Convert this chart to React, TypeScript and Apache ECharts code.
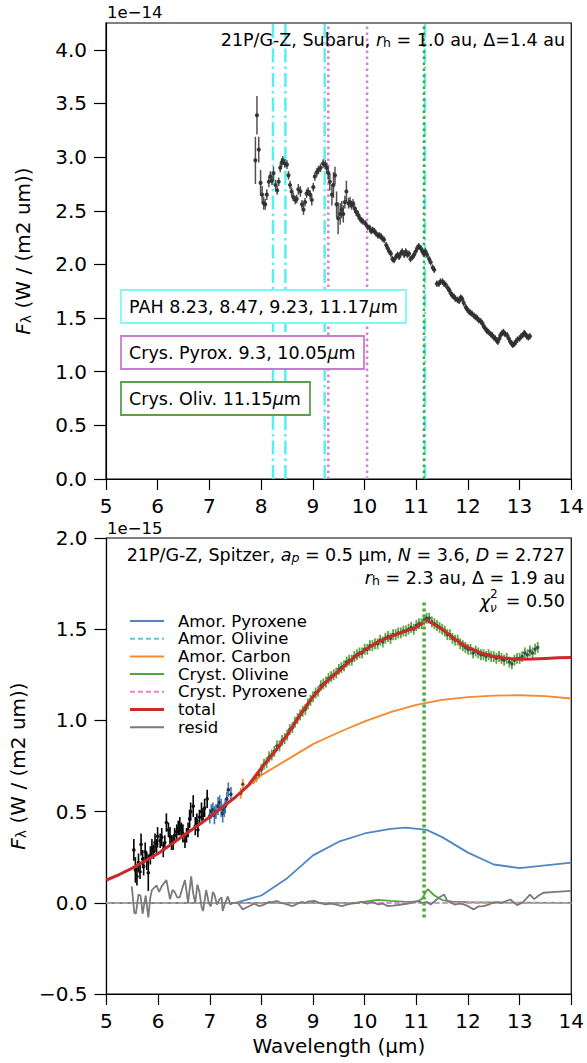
import React, { useEffect, useRef } from 'react';
import * as echarts from 'echarts';

const FONT = '"DejaVu Sans", sans-serif';

// ---------------- Top panel (Subaru) ----------------
const topWave = [7.89,7.92,7.955,7.99,8.02,8.05,8.08,8.11,8.15,8.18,
  8.21,8.24,8.28,8.31,8.34,8.37,8.40,8.42,8.46,8.50,
  8.53,8.56,8.59,8.62,8.66,8.69,8.72,8.76,8.79,8.82,
  8.85,8.88,8.91,8.95,8.98,9.01,9.04,9.08,9.11,9.15,
  9.20,9.24,9.27,9.30,9.33,9.37,9.40,9.43,9.46,9.49,
  9.53,9.56,9.59,9.62,9.65,9.69,9.72,9.75,9.78,9.81,
  9.84,9.88,9.91,9.94,9.97,10.02,10.06,10.10,10.13,10.16,
  10.19,10.22,10.26,10.29,10.32,10.35,10.38,10.42,10.45,10.48,
  10.51,10.54,10.57,10.61,10.64,10.67,10.70,10.73,10.77,10.80,
  10.83,10.86,10.89,10.93,10.96,10.99,11.02,11.05,11.09,11.12,
  11.15,11.18,11.21,11.25,11.28,11.32,11.35,11.40,11.44,11.47,
  11.51,11.54,11.57,11.61,11.64,11.67,11.70,11.73,11.76,11.80,
  11.83,11.86,11.89,11.92,11.96,11.99,12.02,12.05,12.08,12.12,
  12.15,12.18,12.21,12.25,12.28,12.31,12.34,12.37,12.40,12.44,
  12.47,12.50,12.53,12.56,12.58,12.61,12.63,12.66,12.69,12.72,
  12.76,12.79,12.82,12.85,12.87,12.90,12.93,12.96,13.00,13.03,
  13.06,13.09,13.11,13.14,13.17,13.20];
const topFlux = [2.97,3.39,3.07,2.76,2.65,2.57,2.56,2.65,2.77,2.82,
  2.78,2.85,2.74,2.69,2.77,2.90,2.95,2.97,2.94,2.93,
  2.83,2.74,2.68,2.63,2.60,2.61,2.70,2.68,2.56,2.51,
  2.58,2.66,2.68,2.65,2.60,2.72,2.82,2.86,2.88,2.90,
  2.94,2.93,2.90,2.85,2.77,2.65,2.74,2.83,2.56,2.43,
  2.47,2.51,2.47,2.58,2.68,2.57,2.58,2.55,2.57,2.52,
  2.49,2.46,2.43,2.41,2.40,2.38,2.35,2.34,2.31,2.32,
  2.31,2.29,2.27,2.27,2.26,2.24,2.23,2.18,2.15,2.12,
  2.10,2.05,2.04,2.07,2.09,2.07,2.10,2.12,2.09,2.12,
  2.09,2.10,2.05,2.07,2.09,2.12,2.15,2.17,2.15,2.12,
  2.10,2.12,2.09,2.05,2.02,1.97,1.95,1.82,1.82,1.84,
  1.84,1.82,1.81,1.78,1.76,1.73,1.71,1.70,1.68,1.67,
  1.66,1.69,1.68,1.64,1.60,1.58,1.56,1.55,1.54,1.52,
  1.51,1.50,1.48,1.47,1.45,1.42,1.40,1.38,1.37,1.35,
  1.34,1.32,1.31,1.29,1.28,1.31,1.34,1.36,1.37,1.35,
  1.34,1.31,1.28,1.26,1.25,1.26,1.28,1.30,1.31,1.33,
  1.34,1.36,1.35,1.33,1.32,1.33];
const topErr = [0.22,0.18,0.12,0.12,0.08,0.06,0.05,0.05,0.05,0.05,
  0.04,0.06,0.05,0.04,0.04,0.04,0.04,0.04,0.04,0.04,
  0.04,0.04,0.04,0.04,0.04,0.04,0.05,0.05,0.04,0.05,
  0.04,0.04,0.04,0.04,0.05,0.04,0.04,0.04,0.04,0.04,
  0.04,0.04,0.05,0.06,0.08,0.10,0.12,0.08,0.12,0.15,
  0.10,0.08,0.08,0.06,0.10,0.05,0.05,0.04,0.04,0.04,
  0.04,0.04,0.03,0.03,0.03,0.03,0.03,0.03,0.03,0.03,
  0.03,0.03,0.03,0.03,0.03,0.03,0.03,0.03,0.03,0.03,
  0.03,0.03,0.03,0.03,0.03,0.03,0.03,0.03,0.03,0.03,
  0.03,0.03,0.03,0.03,0.03,0.03,0.03,0.03,0.03,0.03,
  0.03,0.03,0.03,0.03,0.03,0.03,0.03,0.03,0.03,0.03,
  0.03,0.03,0.03,0.03,0.03,0.03,0.03,0.03,0.03,0.03,
  0.03,0.03,0.03,0.03,0.03,0.03,0.03,0.03,0.03,0.03,
  0.03,0.03,0.03,0.03,0.03,0.03,0.03,0.03,0.03,0.03,
  0.03,0.03,0.03,0.03,0.03,0.03,0.03,0.03,0.03,0.03,
  0.03,0.03,0.03,0.03,0.03,0.03,0.03,0.03,0.03,0.03,
  0.03,0.03,0.03,0.03,0.03,0.03];

const pahLines = [8.23, 8.47, 9.23, 11.17];
const pyroxLines = [9.3, 10.05];
const olivLines = [11.15];
const topYTicks = [0, 0.5, 1, 1.5, 2, 2.5, 3, 3.5, 4];
const TOP_YMAX = 4.25;

// ---------------- Bottom panel (Spitzer) ----------------
const blackWave = [5.53,5.56,5.59,5.62,5.65,5.67,5.70,5.72,5.75,5.78,
  5.81,5.85,5.88,5.91,5.94,5.97,5.99,6.04,6.07,6.10,
  6.13,6.16,6.20,6.23,6.26,6.29,6.32,6.36,6.39,6.42,
  6.45,6.48,6.52,6.55,6.58,6.61,6.63,6.68,6.72,6.75,
  6.77,6.80,6.84,6.87,6.90,6.95];
const blackFlux = [0.29,0.18,0.145,0.22,0.17,0.32,0.24,0.20,0.28,0.23,
  0.165,0.26,0.30,0.28,0.33,0.31,0.365,0.34,0.36,0.29,
  0.33,0.44,0.40,0.365,0.33,0.33,0.37,0.39,0.41,0.42,
  0.40,0.38,0.34,0.37,0.40,0.46,0.50,0.53,0.42,0.45,
  0.40,0.47,0.50,0.48,0.52,0.57];
const blackErr = [0.06,0.07,0.05,0.05,0.04,0.06,0.05,0.05,0.05,0.05,
  0.10,0.05,0.05,0.04,0.05,0.04,0.05,0.04,0.05,0.04,
  0.04,0.05,0.04,0.05,0.04,0.04,0.04,0.04,0.04,0.05,
  0.04,0.05,0.04,0.04,0.04,0.05,0.05,0.06,0.05,0.04,
  0.04,0.04,0.05,0.04,0.05,0.05];

const blueWave = [7.00,7.03,7.06,7.09,7.12,7.16,7.19,7.22,7.25,7.28,7.30,7.33,7.36,7.41];
const blueFlux = [0.475,0.50,0.51,0.48,0.50,0.53,0.55,0.52,0.49,0.51,0.53,0.57,0.62,0.595];
const blueErr = [0.04,0.04,0.04,0.05,0.04,0.05,0.04,0.05,0.05,0.04,0.04,0.04,0.04,0.04];

const orangeWave = [7.60,7.64,7.85,7.90,7.95];
const orangeFlux = [0.60,0.65,0.67,0.68,0.70];
const orangeErr = [0.03,0.03,0.02,0.02,0.02];

const greenWave = [8.00,8.05,8.10,8.15,8.20,8.25,8.30,8.35,8.40,8.45,
  8.50,8.55,8.60,8.65,8.70,8.75,8.80,8.85,8.90,8.95,
  9.00,9.05,9.10,9.15,9.20,9.25,9.30,9.35,9.40,9.45,
  9.50,9.55,9.60,9.65,9.70,9.75,9.80,9.85,9.90,9.95,
  10.00,10.05,10.10,10.15,10.20,10.25,10.30,10.35,10.40,10.45,
  10.50,10.55,10.60,10.65,10.70,10.75,10.80,10.85,10.90,10.95,
  11.00,11.05,11.10,11.15,11.20,11.25,11.30,11.35,11.40,11.45,
  11.50,11.55,11.60,11.65,11.70,11.75,11.80,11.85,11.90,11.95,
  12.00,12.05,12.10,12.15,12.20,12.25,12.30,12.35,12.40,12.45,
  12.50,12.55,12.60,12.65,12.70,12.75,12.80,12.85,12.90,12.95,
  13.00,13.05,13.10,13.15,13.20,13.25,13.30,13.35];
const greenFlux = [0.73,0.76,0.77,0.80,0.81,0.83,0.86,0.86,0.89,0.90,
  0.92,0.95,0.96,0.99,1.01,1.03,1.05,1.06,1.09,1.11,
  1.13,1.15,1.16,1.19,1.20,1.21,1.23,1.24,1.25,1.26,
  1.28,1.29,1.30,1.32,1.33,1.33,1.35,1.36,1.37,1.37,
  1.39,1.39,1.41,1.41,1.42,1.42,1.44,1.43,1.45,1.46,
  1.45,1.47,1.47,1.48,1.48,1.49,1.49,1.50,1.51,1.50,
  1.52,1.53,1.53,1.55,1.56,1.56,1.54,1.53,1.52,1.51,
  1.50,1.49,1.47,1.47,1.45,1.44,1.44,1.42,1.41,1.40,
  1.39,1.39,1.37,1.38,1.37,1.36,1.36,1.35,1.36,1.35,
  1.35,1.34,1.35,1.34,1.33,1.34,1.32,1.31,1.33,1.34,
  1.34,1.35,1.37,1.36,1.38,1.37,1.39,1.40];
const GREEN_ERR = 0.03;

const totalWave = [5.0,5.25,5.5,5.75,6.0,6.25,6.5,6.75,7.0,7.25,7.5,7.75,8.0,8.25,8.5,8.75,9.0,9.25,9.5,9.75,10.0,10.25,10.5,10.75,11.0,11.2,11.5,11.75,12.0,12.25,12.5,12.75,13.0,13.25,13.5,13.75,14.0];
const totalFlux = [0.125,0.155,0.19,0.23,0.27,0.32,0.37,0.42,0.47,0.525,0.58,0.645,0.74,0.825,0.92,1.03,1.13,1.21,1.27,1.335,1.385,1.43,1.46,1.485,1.51,1.55,1.50,1.445,1.40,1.37,1.35,1.34,1.335,1.337,1.34,1.343,1.345];

const carbonWave = [5.0,5.5,6.0,6.5,7.0,7.5,8.0,8.5,9.0,9.5,10.0,10.5,11.0,11.5,12.0,12.5,13.0,13.5,14.0];
const carbonFlux = [0.125,0.19,0.27,0.37,0.47,0.58,0.70,0.785,0.87,0.935,0.995,1.045,1.085,1.112,1.128,1.136,1.138,1.133,1.12];

const amPyrWave = [5.0,7.5,8.0,8.5,9.0,9.5,10.0,10.5,10.8,11.2,11.5,12.0,12.5,13.0,13.5,14.0];
const amPyrFlux = [0,0,0.04,0.135,0.26,0.335,0.38,0.405,0.412,0.40,0.36,0.275,0.21,0.19,0.205,0.22];

const crOlWave = [5.0,9.8,10.0,10.25,10.5,10.8,11.0,11.1,11.22,11.35,11.5,11.7,12.0,13.0,14.0];
const crOlFlux = [0,0,0.006,0.016,0.01,0.005,0.006,0.02,0.075,0.04,0.015,0.006,0.003,0.001,0];

const amOlWave = [5.0, 14.0];
const amOlFlux = [0, 0];
const crPyrWave = [5.0, 14.0];
const crPyrFlux = [0, 0];

const residWave = [5.49,5.54,5.57,5.62,5.66,5.70,5.76,5.81,5.85,5.88,5.97,6.02,6.07,6.16,6.23,6.28,6.32,6.37,6.42,6.47,
  6.52,6.58,6.64,6.68,6.72,6.76,6.80,6.84,6.87,6.93,6.98,7.02,7.06,7.09,7.14,7.19,7.23,7.25,7.30,7.35,
  7.40,7.44,7.54,7.64,7.75,7.86,7.96,8.05,8.15,8.21,8.30,8.37,8.45,8.52,8.60,8.70,8.78,8.85,8.92,9.04,
  9.12,9.24,9.35,9.45,9.56,9.65,9.75,9.88,9.95,10.05,10.15,10.26,10.35,10.45,10.55,10.64,10.75,10.84,10.95,11.03,
  11.12,11.20,11.28,11.36,11.45,11.54,11.60,11.67,11.75,11.83,11.92,12.01,12.11,12.20,12.30,12.40,12.48,12.56,12.65,12.74,
  12.82,12.95,13.05,13.12,13.20,13.28,13.37,13.46,13.70,14.0];
const residFlux = [0.09,-0.055,-0.06,0.045,0.04,-0.06,0.04,-0.08,0.03,0.07,0.095,0.06,0.09,0.125,0.02,0.07,0.06,0.03,0.03,0.08,
  0.125,0.0,0.145,0.05,0.0,0.1,0.06,-0.02,-0.045,0.07,0.0,-0.02,0.06,0.045,-0.01,0.02,0.03,-0.045,0.0,0.035,
  -0.01,0.0,0.0,-0.036,-0.02,-0.005,-0.018,-0.01,0.005,0.004,0.01,0.0,-0.005,-0.012,-0.018,-0.005,0.005,0.0,0.008,0.01,
  0.0,-0.009,-0.005,-0.01,-0.018,-0.01,-0.005,0.0,0.005,-0.005,0.005,-0.009,-0.004,-0.018,-0.015,-0.012,-0.008,-0.005,0.005,0.009,
  0.0,0.005,-0.009,0.01,0.03,0.045,0.01,0.0,-0.01,-0.005,-0.009,-0.02,-0.036,-0.02,-0.018,-0.01,0.0,0.004,0.0,0.01,
  0.018,-0.013,0.0,0.02,0.045,0.02,0.04,0.055,0.06,0.065];

const bottomOlivLineX = 11.15;
const bottomOlivLineY = [-0.08, 1.65];
const bottomYTicks = [-0.5, 0, 0.5, 1, 1.5, 2];

const legendItems = [
  { name: 'Amor. Pyroxene', color: '#4f86c6', dash: 'solid', width: 2 },
  { name: 'Amor. Olivine', color: '#5bc8dc', dash: [5, 3], width: 2 },
  { name: 'Amor. Carbon', color: '#f5892b', dash: 'solid', width: 2 },
  { name: 'Cryst. Olivine', color: '#4fa83d', dash: 'solid', width: 2 },
  { name: 'Cryst. Pyroxene', color: '#e088d0', dash: [5, 3], width: 2 },
  { name: 'total', color: '#c92a2a', dash: 'solid', width: 3 },
  { name: 'resid', color: '#7a7a7a', dash: 'solid', width: 2 },
];

const xy = (xs: number[], ys: number[]) => xs.map((x, i) => [x, ys[i]]);

function lineSeries(xs: number[], ys: number[], color: string, width: number, type: any, gi: number, z = 4) {
  return {
    type: 'line', xAxisIndex: gi, yAxisIndex: gi, data: xy(xs, ys),
    symbol: 'none', showSymbol: false, silent: true, z,
    lineStyle: { color, width, type },
  };
}

function errSeries(xs: number[], ys: number[], es: number[] | number, gi: number, barColor: string, markColor: string, r: number, bw: number, z = 3) {
  return {
    type: 'custom', xAxisIndex: gi, yAxisIndex: gi, silent: true, z,
    data: xs.map((x, i) => [x, ys[i], Array.isArray(es) ? es[i] : es]),
    encode: { x: 0, y: 1 },
    renderItem: (_p: any, api: any) => {
      const x = api.value(0), y = api.value(1), e = api.value(2);
      const a = api.coord([x, y + e]);
      const b = api.coord([x, y - e]);
      const c = api.coord([x, y]);
      return {
        type: 'group',
        children: [
          { type: 'line', shape: { x1: a[0], y1: a[1], x2: b[0], y2: b[1] }, style: { stroke: barColor, lineWidth: bw } },
          { type: 'circle', shape: { cx: c[0], cy: c[1], r }, style: { fill: markColor } },
        ],
      };
    },
  };
}

function vline(x: number, y0: number, y1: number, color: string, width: number, type: any, gi: number, z = 2) {
  return lineSeries([x, x], [y0, y1], color, width, type, gi, z);
}

const fmt = (v: number) => (v < 0 ? '\u2212' + Math.abs(v).toFixed(1) : v.toFixed(1));

const richBase = {
  n: { fontSize: 17.5, fontFamily: FONT, color: '#000' },
  i: { fontSize: 17.5, fontFamily: FONT, fontStyle: 'italic', color: '#000' },
  sub: { fontSize: 12.5, fontFamily: FONT, color: '#000', verticalAlign: 'bottom', lineHeight: 6 },
  subi: { fontSize: 12.5, fontFamily: FONT, fontStyle: 'italic', color: '#000', verticalAlign: 'bottom', lineHeight: 6 },
};

function richText(x: number, y: number, text: string, align = 'right') {
  return {
    type: 'text', x, y, silent: true, z: 20,
    style: { text, rich: richBase, align, verticalAlign: 'middle', textAlign: align, textVerticalAlign: 'middle', fontSize: 17.5, fontFamily: FONT, fill: '#000' },
  };
}

function plainText(x: number, y: number, text: string, size: number, align = 'left', italic = false) {
  return {
    type: 'text', x, y, silent: true, z: 20,
    style: { text, fontSize: size, fontFamily: FONT, fontStyle: italic ? 'italic' : 'normal', fill: '#000', align, verticalAlign: 'middle', textAlign: align, textVerticalAlign: 'middle' },
  };
}

function boxLabel(x: number, y: number, w: number, h: number, border: string, text: string) {
  return [
    { type: 'rect', shape: { x, y, width: w, height: h }, style: { fill: '#fff', stroke: border, lineWidth: 1.8 }, z: 18, silent: true },
    richText(x + 8, y + h / 2, text, 'left'),
  ];
}

function axisCommon(gi: number) {
  return {
    gridIndex: gi,
    axisLine: { show: true, onZero: false, lineStyle: { color: '#000', width: 1.2 } },
    splitLine: { show: false },
  };
}

function buildOption() {
  const yName = '{i|F}{sub|\u03bb} (W / (m2 um))';
  const yNameStyle = {
    fontSize: 20, fontFamily: FONT, color: '#000',
    rich: {
      i: { fontSize: 20, fontFamily: FONT, fontStyle: 'italic', color: '#000' },
      sub: { fontSize: 14, fontFamily: FONT, color: '#000', verticalAlign: 'bottom', lineHeight: 8 },
    },
  };
  const xAxisBase = (gi: number) => ({
    ...axisCommon(gi), type: 'value', min: 5, max: 14, interval: 1,
    axisTick: { show: true, length: 11, lineStyle: { color: '#000', width: 1.2 } },
    axisLabel: { fontSize: 20, fontFamily: FONT, color: '#000', margin: 17 },
  });

  const series: any[] = [];
  // top panel lines
  pahLines.forEach((x) => series.push(vline(x, 0, TOP_YMAX, '#55f0f0', 2.5, [14, 4, 2.5, 4], 0)));
  pyroxLines.forEach((x) => series.push(vline(x, 0, TOP_YMAX, '#d97fd3', 2.5, [2.5, 3.5], 0)));
  olivLines.forEach((x) => series.push(vline(x, 0, TOP_YMAX, '#4aa13a', 2.5, [2.5, 3.5], 0)));
  series.push(errSeries(topWave, topFlux, topErr, 0, 'rgba(50,50,50,0.85)', 'rgba(45,45,45,0.9)', 2.1, 1.5, 5));

  // bottom panel data
  series.push(errSeries(blackWave, blackFlux, blackErr, 1, '#000', '#111', 1.8, 1.6, 3));
  series.push(errSeries(blueWave, blueFlux, blueErr, 1, '#3f74b0', '#1f3556', 1.8, 1.6, 3));
  series.push(errSeries(orangeWave, orangeFlux, orangeErr, 1, '#f5892b', '#6b4a2a', 1.8, 1.6, 3));
  series.push(errSeries(greenWave, greenFlux, GREEN_ERR, 1, '#5aa83e', '#3a4a58', 1.7, 1.8, 3));

  // model components
  series.push(lineSeries(amPyrWave, amPyrFlux, legendItems[0].color, 1.8, 'solid', 1, 4));
  series.push(lineSeries(amOlWave, amOlFlux, legendItems[1].color, 1.8, [5, 3], 1, 4));
  series.push(lineSeries(carbonWave, carbonFlux, legendItems[2].color, 1.8, 'solid', 1, 4));
  series.push(lineSeries(crOlWave, crOlFlux, legendItems[3].color, 1.8, 'solid', 1, 4));
  series.push(lineSeries(crPyrWave, crPyrFlux, legendItems[4].color, 1.8, [5, 3], 1, 5));
  series.push(lineSeries(totalWave, totalFlux, legendItems[5].color, 3, 'solid', 1, 6));
  series.push(lineSeries(residWave, residFlux, legendItems[6].color, 1.8, 'solid', 1, 6));
  series.push(vline(bottomOlivLineX, bottomOlivLineY[0], bottomOlivLineY[1], '#4fa83d', 3.5, [3, 3], 1, 7));

  const graphic: any[] = [];
  graphic.push(plainText(107, 12, '1e\u221214', 16.5));
  graphic.push(plainText(107, 528, '1e\u221215', 16.5));
  graphic.push(richText(565, 40, '{n|21P/G-Z, Subaru, }{i|r}{sub|h}{n| = 1.0 au, \u0394=1.4 au}'));
  graphic.push(...boxLabel(121, 290, 285, 33, '#7ff7f7', '{n|PAH 8.23, 8.47, 9.23, 11.17}{i|\u03bc}{n|m}'));
  graphic.push(...boxLabel(121, 336, 243, 33, '#c77dc7', '{n|Crys. Pyrox. 9.3, 10.05}{i|\u03bc}{n|m}'));
  graphic.push(...boxLabel(121, 382, 189, 33, '#5c9e4a', '{n|Crys. Oliv. 11.15}{i|\u03bc}{n|m}'));

  graphic.push(richText(565, 555, '{n|21P/G-Z, Spitzer, }{i|a}{subi|p}{n| = 0.5 \u03bcm, }{i|N}{n| = 3.6, }{i|D}{n| = 2.727}'));
  graphic.push(richText(565, 578, '{i|r}{sub|h}{n| = 2.3 au, \u0394 = 1.9 au}'));
  graphic.push(plainText(565, 601, ' = 0.50', 17.5, 'right'));
  graphic.push(plainText(490, 602, '\u03c7', 17.5, 'right', true));
  graphic.push(plainText(490, 594, '2', 12, 'left'));
  graphic.push(plainText(490, 608, '\u03bd', 12, 'left', true));

  const legTop = 621, legStep = 17.7;
  legendItems.forEach((it, k) => {
    const y = legTop + k * legStep;
    graphic.push({ type: 'line', shape: { x1: 130, y1: y, x2: 164, y2: y }, style: { stroke: it.color, lineWidth: it.width, lineDash: Array.isArray(it.dash) ? it.dash : null }, z: 20, silent: true });
    graphic.push(plainText(178, y, it.name, 16.5));
  });

  return {
    animation: false,
    backgroundColor: '#fff',
    textStyle: { fontFamily: FONT },
    grid: [
      { left: 106, top: 23, width: 468, height: 456, show: true, borderColor: '#000', borderWidth: 1.2, backgroundColor: 'transparent' },
      { left: 106, top: 538, width: 468, height: 456, show: true, borderColor: '#000', borderWidth: 1.2, backgroundColor: 'transparent' },
    ],
    xAxis: [
      xAxisBase(0),
      { ...xAxisBase(1), name: 'Wavelength (\u03bcm)', nameLocation: 'middle', nameGap: 42, nameTextStyle: { fontSize: 20, fontFamily: FONT, color: '#000' } },
    ],
    yAxis: [
      {
        ...axisCommon(0), type: 'value', min: 0, max: TOP_YMAX,
        axisTick: { show: true, length: 12, customValues: topYTicks, lineStyle: { color: '#000', width: 1.2 } },
        axisLabel: { fontSize: 20, fontFamily: FONT, color: '#000', margin: 19, customValues: topYTicks, formatter: fmt },
        name: yName, nameLocation: 'middle', nameRotate: 90, nameGap: 73, nameTextStyle: yNameStyle,
      },
      {
        ...axisCommon(1), type: 'value', min: -0.5, max: 2.0, interval: 0.5,
        axisTick: { show: true, length: 12, lineStyle: { color: '#000', width: 1.2 } },
        axisLabel: { fontSize: 20, fontFamily: FONT, color: '#000', margin: 19, formatter: fmt, customValues: bottomYTicks },
        name: yName, nameLocation: 'middle', nameRotate: 90, nameGap: 73, nameTextStyle: yNameStyle,
      },
    ],
    series,
    graphic,
  };
}

export default function App() {
  const ref = useRef<HTMLDivElement>(null);
  useEffect(() => {
    if (!ref.current) return;
    const chart = echarts.init(ref.current, null, { renderer: 'svg' });
    chart.setOption(buildOption() as any);
    return () => chart.dispose();
  }, []);
  return (
    <div
      ref={ref}
      style={{ position: 'absolute', left: 0, top: 0, width: 587, height: 1063, background: '#fff' }}
    />
  );
}
